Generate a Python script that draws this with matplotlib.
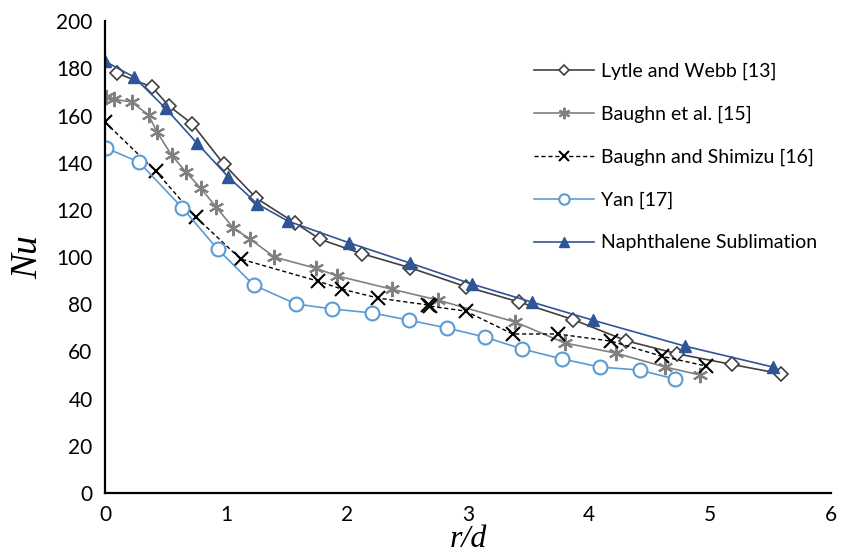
import matplotlib
matplotlib.use("Agg")
import matplotlib.pyplot as plt

# Lytle and Webb [13]
lytle_x = [0.10, 0.39, 0.53, 0.72, 0.98, 1.25, 1.57, 1.78, 2.12, 2.52, 2.98, 3.42, 3.87, 4.31, 4.73, 5.18, 5.59]
lytle_y = [178, 172, 164, 156.5, 139.5, 125, 114.5, 107.5, 101.5, 95.5, 87.5, 81, 73.5, 64.5, 59, 54.5, 50.5]

# Baughn et al. [15]
baughn_x = [0.01, 0.07, 0.22, 0.36, 0.43, 0.55, 0.67, 0.79, 0.92, 1.06, 1.20, 1.40, 1.74, 1.92, 2.37, 2.75, 3.39, 3.80, 4.22, 4.63, 4.92]
baughn_y = [167.8, 167, 165.7, 160.2, 153, 143.2, 136, 129.2, 121.2, 112.3, 107.6, 100, 95.3, 92, 86.4, 81.8, 72.5, 63.6, 59.3, 53.4, 50]

# Baughn and Shimizu [16]
shimizu_x = [0.0, 0.42, 0.75, 1.12, 1.76, 1.96, 2.26, 2.67, 2.69, 2.98, 3.37, 3.74, 4.18, 4.60, 4.97]
shimizu_y = [157.2, 136.4, 117, 99.2, 89.8, 86.4, 82.6, 79.7, 79.2, 77.1, 67.4, 67.4, 64.4, 58, 53.8]

# Yan [17]
yan_x = [0.01, 0.28, 0.64, 0.93, 1.23, 1.58, 1.88, 2.21, 2.51, 2.83, 3.14, 3.45, 3.78, 4.09, 4.42, 4.71]
yan_y = [146.2, 140.3, 120.8, 103.4, 88.1, 80.1, 78, 76.3, 73.3, 69.9, 66.1, 61, 56.8, 53.4, 52.1, 48.3]

# Naphthalene Sublimation
naph_x = [0.0, 0.24, 0.50, 0.76, 1.02, 1.26, 1.51, 2.02, 2.52, 3.03, 3.53, 4.03, 4.79, 5.52]
naph_y = [183, 176.3, 163.1, 148.3, 133.9, 122.5, 115.3, 106, 97.5, 88.6, 80.9, 73.3, 62.3, 53.4]

plt.rcParams['font.family'] = ['Lato', 'DejaVu Sans']

fig = plt.figure(figsize=(8.54, 5.58), dpi=100)
ax = fig.add_axes([0.123, 0.1165, 0.850, 0.8455])

ax.plot(lytle_x, lytle_y, color='#404040', lw=1.2, marker='D', ms=7,
        mfc='white', mec='#404040', mew=1.2, label='Lytle and Webb [13]')
ax.plot(baughn_x, baughn_y, color='#808080', lw=1.2, marker=(6, 2, 0), ms=11,
        mec='#808080', mew=1.5, label='Baughn et al. [15]')
ax.plot(shimizu_x, shimizu_y, color='black', lw=1.0, ls=(0, (3, 2)), marker='x', ms=10,
        mec='black', mew=1.5, label='Baughn and Shimizu [16]')
ax.plot(yan_x, yan_y, color='#5B9BD5', lw=1.2, marker='o', ms=10,
        mfc='white', mec='#5B9BD5', mew=1.5, label='Yan [17]')
ax.plot(naph_x, naph_y, color='#2F5597', lw=1.2, marker='^', ms=9,
        mfc='#2F5597', mec='#2F5597', label='Naphthalene Sublimation')

ax.set_xlim(0, 6)
ax.set_ylim(0, 200)
ax.set_xticks(range(0, 7))
ax.set_yticks(range(0, 201, 20))
ax.tick_params(length=0, labelsize=15, pad=9)
for s in ['top', 'right']:
    ax.spines[s].set_visible(False)
for s in ['left', 'bottom']:
    ax.spines[s].set_linewidth(1.6)
    ax.spines[s].set_color('black')

ax.set_xlabel('r/d', family='Liberation Serif', style='italic', fontsize=23, labelpad=0)
ax.set_ylabel('Nu', family='Liberation Serif', style='italic', fontsize=27, labelpad=8)

ax.legend(loc='upper left', bbox_to_anchor=(0.567, 0.95), frameon=False, fontsize=14,
          handlelength=3.1, labelspacing=1.32, handletextpad=0.35, markerscale=0.75)

fig.savefig('out.png', dpi=100)
